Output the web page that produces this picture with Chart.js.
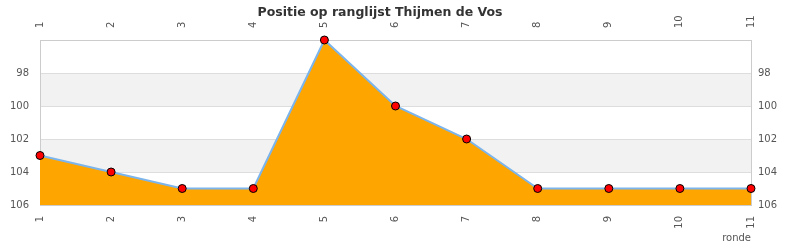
<!DOCTYPE html>
<html>
<head>
<meta charset="utf-8">
<script src="https://cdn.jsdelivr.net/npm/chart.js@4"></script>
<style>
  html, body { margin: 0; padding: 0; background: #fff; }
  #wrap { width: 790px; height: 250px; }
</style>
</head>
<body>
<div id="wrap"><canvas id="chart" width="790" height="250"></canvas></div>
<script>
// --- Data ---
const chartTitle = 'Positie op ranglijst Thijmen de Vos';
const rounds = ['1', '2', '3', '4', '5', '6', '7', '8', '9', '10', '11'];
const positions = [103, 104, 105, 105, 96, 100, 102, 105, 105, 105, 105];
const yTicks = [96, 98, 100, 102, 104, 106];
const grayBands = [[98, 100], [102, 104]];

const tickFont = { family: 'DejaVu Sans', size: 10 };
const tickColor = '#555';

// shaded horizontal bands behind the grid
const bandPlugin = {
    id: 'bands',
    beforeDraw(chart) {
        const { ctx, chartArea, scales } = chart;
        ctx.save();
        ctx.fillStyle = '#f2f2f2';
        grayBands.forEach(([a, b]) => {
            const y1 = scales.y.getPixelForValue(a);
            const y2 = scales.y.getPixelForValue(b);
            ctx.fillRect(chartArea.left, Math.min(y1, y2), chartArea.right - chartArea.left, Math.abs(y2 - y1));
        });
        ctx.restore();
    }
};

// title drawn in the space above the top axis (slightly left of centre, like the original)
const titlePlugin = {
    id: 'topTitle',
    afterDraw(chart) {
        const { ctx } = chart;
        ctx.save();
        ctx.font = 'bold 12.5px "DejaVu Sans"';
        ctx.fillStyle = '#333';
        ctx.textAlign = 'center';
        ctx.textBaseline = 'alphabetic';
        ctx.fillText(chartTitle, 380, 16);
        ctx.restore();
    }
};

const yTickOpts = (pad) => ({
    font: tickFont,
    color: tickColor,
    padding: pad,
    autoSkip: false,
    callback: (v) => (v === yTicks[0] ? '' : v)
});

new Chart(document.getElementById('chart'), {
    type: 'line',
    data: {
        labels: rounds,
        datasets: [{
            data: positions,
            borderColor: '#7cb5ec',
            borderWidth: 2,
            backgroundColor: '#ffa500',
            fill: { value: 106 },
            tension: 0,
            pointRadius: 4,
            pointBackgroundColor: '#ff0000',
            pointBorderColor: '#000',
            pointBorderWidth: 1,
            clip: false
        }]
    },
    options: {
        responsive: false,
        animation: false,
        layout: { padding: 0 },
        plugins: {
            legend: { display: false },
            tooltip: { enabled: false },
            title: { display: false }
        },
        scales: {
            x: {
                position: 'bottom',
                offset: false,
                grid: { display: false, drawTicks: false },
                border: { display: true, color: '#ccc' },
                ticks: { font: tickFont, color: tickColor, minRotation: 90, maxRotation: 90, padding: 11, autoSkip: false },
                title: {
                    display: true, text: 'ronde', align: 'end',
                    color: tickColor, font: tickFont, padding: { top: 0, bottom: 6 }
                },
                afterFit: (s) => { s.height = 45; }
            },
            x2: {
                position: 'top',
                type: 'category',
                labels: rounds,
                offset: false,
                grid: { display: false, drawTicks: false },
                border: { display: true, color: '#ccc' },
                ticks: { font: tickFont, color: tickColor, minRotation: 90, maxRotation: 90, padding: 12, labelOffset: 12, autoSkip: false },
                afterFit: (s) => { s.height = 40; }
            },
            y: {
                position: 'left',
                reverse: true,
                min: 96,
                max: 106,
                afterBuildTicks: (s) => { s.ticks = yTicks.map(v => ({ value: v })); },
                grid: { color: '#ddd', drawTicks: false },
                border: { display: true, color: '#ccc' },
                ticks: yTickOpts(11),
                afterFit: (s) => { s.width = 40; }
            },
            y2: {
                position: 'right',
                reverse: true,
                min: 96,
                max: 106,
                afterBuildTicks: (s) => { s.ticks = yTicks.map(v => ({ value: v })); },
                grid: { display: false, drawTicks: false },
                border: { display: true, color: '#ccc' },
                ticks: yTickOpts(7),
                afterFit: (s) => { s.width = 39; }
            }
        }
    },
    plugins: [bandPlugin, titlePlugin]
});
</script>
</body>
</html>
